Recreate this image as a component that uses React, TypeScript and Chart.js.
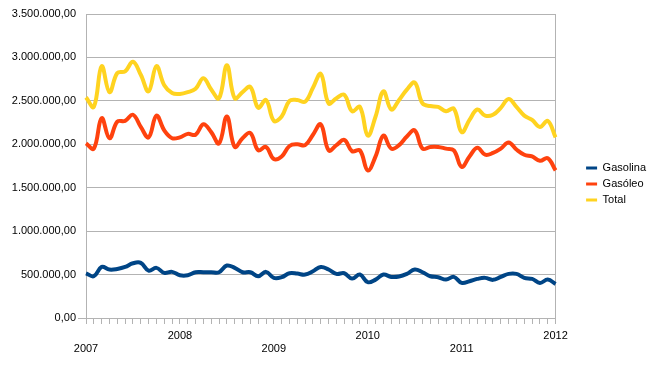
import React, { useEffect, useRef } from 'react';
import { Chart, registerables } from 'chart.js';

Chart.register(...registerables);

const FONT = "'Liberation Sans', Arial, sans-serif";
const GRID = '#b3b3b3';

// Categories: monthly from Jan 2007 to Jan 2012
const startYear = 2007;
const endYear = 2012;
const months: string[] = [];
for (let y = startYear; y < endYear; y++) {
  for (let m = 1; m <= 12; m++) months.push(`${y}-${String(m).padStart(2, '0')}`);
}
months.push(`${endYear}-01`);

const gasolina = [
  515000, 481000, 588000, 558000, 565000, 588000, 630000, 635000, 546000, 577000,
  519000, 531000, 492000, 492000, 527000, 527000, 527000, 527000, 604000, 577000,
  527000, 527000, 481000, 531000, 462000, 470000, 515000, 511000, 500000, 538000,
  588000, 558000, 508000, 515000, 454000, 500000, 412000, 442000, 500000, 473000,
  477000, 508000, 558000, 527000, 481000, 469000, 442000, 473000, 404000, 423000,
  450000, 462000, 439000, 473000, 508000, 508000, 462000, 450000, 404000, 442000,
  392000,
];

const gasoleo = [
  2010000, 1950000, 2300000, 2070000, 2260000, 2270000, 2340000, 2200000, 2080000, 2330000,
  2160000, 2070000, 2080000, 2120000, 2110000, 2230000, 2140000, 2010000, 2320000, 1970000,
  2070000, 2130000, 1930000, 1970000, 1830000, 1860000, 1980000, 2000000, 1990000, 2110000,
  2230000, 1930000, 1990000, 2050000, 1920000, 1930000, 1700000, 1860000, 2100000, 1950000,
  1990000, 2090000, 2160000, 1950000, 1970000, 1970000, 1950000, 1930000, 1740000, 1860000,
  1960000, 1880000, 1900000, 1950000, 2020000, 1940000, 1880000, 1860000, 1810000, 1840000,
  1700000,
];

const total = [
  2540000, 2430000, 2900000, 2600000, 2820000, 2840000, 2950000, 2800000, 2610000, 2900000,
  2680000, 2590000, 2580000, 2600000, 2640000, 2760000, 2630000, 2530000, 2910000, 2530000,
  2600000, 2660000, 2420000, 2510000, 2270000, 2320000, 2500000, 2510000, 2490000, 2650000,
  2810000, 2470000, 2530000, 2570000, 2380000, 2430000, 2100000, 2320000, 2610000, 2400000,
  2510000, 2630000, 2710000, 2470000, 2440000, 2430000, 2380000, 2410000, 2140000, 2280000,
  2400000, 2330000, 2340000, 2420000, 2520000, 2430000, 2330000, 2280000, 2200000, 2270000,
  2080000,
];

const seriesNames = ['Gasolina', 'Gasóleo', 'Total'];
const seriesColors = ['#004586', '#ff420e', '#ffd320'];

const yMin = 0;
const yMax = 3500000;
const yStep = 500000;

function formatNumber(v: number): string {
  const fixed = Math.abs(v).toFixed(2);
  const [intPart, dec] = fixed.split('.');
  const withSep = intPart.replace(/\B(?=(\d{3})+(?!\d))/g, '.');
  return (v < 0 ? '-' : '') + withSep + ',' + dec;
}

export default function App() {
  const ref = useRef<HTMLCanvasElement>(null);

  useEffect(() => {
    if (!ref.current) return;
    const data = [gasolina, gasoleo, total];
    const chart = new Chart(ref.current, {
      type: 'line',
      data: {
        labels: months,
        datasets: data.map((d, i) => ({
          label: seriesNames[i],
          data: d,
          borderColor: seriesColors[i],
          backgroundColor: seriesColors[i],
          borderWidth: 4,
          pointRadius: 0,
          tension: 0.4,
          fill: false,
        })),
      },
      options: {
        responsive: false,
        animation: false,
        layout: { padding: { top: 14, bottom: 18, right: 7, left: 0 } },
        font: { family: FONT },
        plugins: {
          tooltip: { enabled: false },
          legend: {
            position: 'right',
            labels: {
              boxWidth: 11,
              boxHeight: 3,
              padding: 5,
              color: '#000',
              font: { family: FONT, size: 11 },
              generateLabels: (chart: any) =>
                Chart.defaults.plugins.legend.labels.generateLabels(chart).map((it: any) => ({
                  ...it,
                  lineWidth: 0,
                  fillStyle: it.strokeStyle,
                })),
            },
          },
        },
        scales: {
          x: {
            grid: { drawOnChartArea: false, drawTicks: true, tickLength: 6, color: GRID },
            border: { display: true, color: GRID },
            ticks: {
              autoSkip: false,
              maxRotation: 0,
              minRotation: 0,
              padding: 5,
              color: '#000',
              font: { family: FONT, size: 11 },
              callback: (_v: any, idx: number) => {
                const lab = months[idx];
                if (!lab || !lab.endsWith('-01')) return '';
                const yr = parseInt(lab.slice(0, 4), 10);
                return (yr - startYear) % 2 === 0 ? ['', String(yr)] : String(yr);
              },
            },
            afterFit: (s: any) => {
              s.height = 36;
            },
          },
          y: {
            min: yMin,
            max: yMax,
            grid: {
              color: GRID,
              drawTicks: true,
              tickLength: 8,
              tickColor: (ctx: any) => (ctx.tick && ctx.tick.value === 0 ? GRID : 'rgba(0,0,0,0)'),
            },
            border: { display: true, color: GRID },
            ticks: {
              stepSize: yStep,
              padding: 2,
              color: '#000',
              font: { family: FONT, size: 11 },
              callback: (v: any) => formatNumber(Number(v)),
            },
            afterFit: (s: any) => {
              s.width = 86;
            },
          },
          y2: {
            position: 'right',
            min: yMin,
            max: yMax,
            grid: { display: false, drawTicks: false },
            border: { display: true, color: GRID },
            ticks: { display: false },
            afterFit: (s: any) => {
              s.width = 25.5;
            },
          },
        },
      },
    } as any);
    return () => chart.destroy();
  }, []);

  return (
    <div style={{ position: 'fixed', left: 0, top: 0, width: 663, height: 372, background: '#fff' }}>
      <canvas ref={ref} width={663} height={372} style={{ display: 'block' }} />
    </div>
  );
}
